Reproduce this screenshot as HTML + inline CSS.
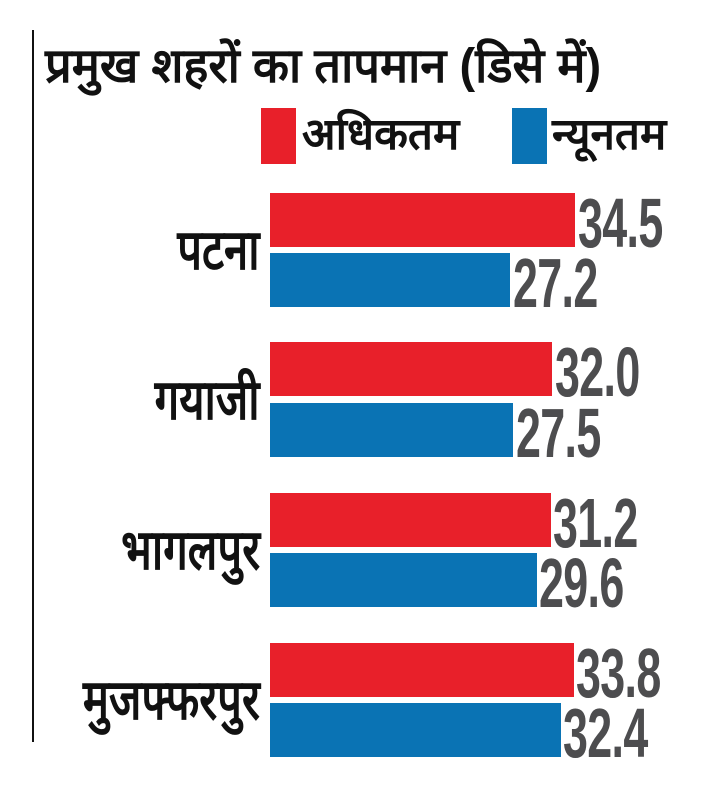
<!DOCTYPE html>
<html><head><meta charset="utf-8"><style>
body{margin:0;width:705px;height:797px;background:#fff;position:relative;overflow:hidden;font-family:"Liberation Sans",sans-serif}
.a{position:absolute}
.r{background:#e8202a;height:54px;left:270px}
.b{background:#0a73b4;height:54px;left:270px}
.n{position:absolute;font:bold 70px/54px "Liberation Sans",sans-serif;color:#4d4d4f;transform:scaleX(0.64);transform-origin:left center;letter-spacing:-1px}
.c{position:absolute;right:445px;font:bold 56px/54px "Liberation Sans",sans-serif;color:#111;transform:scaleX(0.78);transform-origin:right center;white-space:nowrap}
</style></head><body>
<div class="a" style="left:32px;top:30px;width:2px;height:712px;background:#111"></div>
<div class="a" style="left:45px;top:40px;font-weight:bold;font-size:48px;line-height:54px;color:#111;white-space:nowrap;transform:scaleX(0.98);transform-origin:left">प्रमुख शहरों का तापमान (डिसे में)</div>
<div class="a" style="left:261px;top:108px;width:35px;height:56px;background:#e8202a"></div>
<div class="a" style="left:302px;top:108px;font-weight:bold;font-size:44px;line-height:54px;color:#111;white-space:nowrap">अधिकतम</div>
<div class="a" style="left:512px;top:108px;width:35px;height:56px;background:#0a73b4"></div>
<div class="a" style="left:552px;top:108px;font-weight:bold;font-size:44px;line-height:54px;color:#111;white-space:nowrap">न्यूनतम</div>

<div class="a r" style="top:193px;width:305px"></div><div class="n" style="left:578px;top:196px">34.5</div>
<div class="a b" style="top:253px;width:240px"></div><div class="n" style="left:513px;top:256px">27.2</div>
<div class="c" style="top:223px">पटना</div>

<div class="a r" style="top:342px;width:282px"></div><div class="n" style="left:555px;top:345px">32.0</div>
<div class="a b" style="top:403px;width:243px"></div><div class="n" style="left:516px;top:406px">27.5</div>
<div class="c" style="top:373px">गयाजी</div>

<div class="a r" style="top:493px;width:281px"></div><div class="n" style="left:553px;top:496px">31.2</div>
<div class="a b" style="top:553px;width:267px"></div><div class="n" style="left:539px;top:556px">29.6</div>
<div class="c" style="top:523px">भागलपुर</div>

<div class="a r" style="top:643px;width:304px"></div><div class="n" style="left:576px;top:646px">33.8</div>
<div class="a b" style="top:703px;width:291px"></div><div class="n" style="left:563px;top:706px">32.4</div>
<div class="c" style="top:673px">मुजफ्फरपुर</div>
</body></html>
